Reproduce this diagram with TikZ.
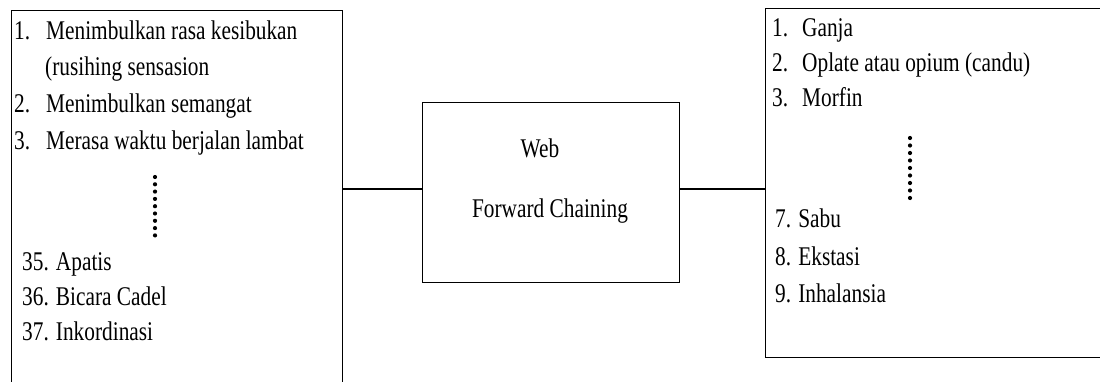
\documentclass[tikz,border=0pt]{standalone}
\usepackage{fontspec}
\usepackage{graphicx}
\setmainfont{Liberation Serif}
\newcommand{\sq}[1]{\scalebox{0.79}[1]{#1}}
\tikzset{
  box/.style={draw, line width=1.1pt, inner sep=0pt, fill=none},
  txt/.style={anchor=base west, inner sep=0pt, font=\fontsize{27}{27}\selectfont},
  ctxt/.style={anchor=base, inner sep=0pt, font=\fontsize{27}{27}\selectfont},
  conn/.style={line width=1.1pt},
}
\begin{document}
\begin{tikzpicture}[x=1pt,y=-1pt]
\useasboundingbox (0,0) rectangle (1100,382);
% boxes
\node[box, minimum width=331pt, minimum height=420pt, anchor=north west] (L) at (11,10) {};
\node[box, minimum width=257pt, minimum height=180pt, anchor=north west] (C) at (422,102) {};
\node[box, minimum width=350pt, minimum height=349pt, anchor=north west] (R) at (765,8) {};
% connectors
\coordinate (cl) at (422,189);
\coordinate (cr) at (679,189);
\draw[conn] (cl) -- (cl -| L.east);
\draw[conn] (cr) -- (cr -| R.west);
% left text
\node[txt] (l1n) at (14,40) {\sq{1.}};
\node[txt] (l1) at (46,40) {\sq{Menimbulkan rasa kesibukan}};
\node[txt] (l1b) at (45,76) {\sq{(rusihing sensasion}};
\node[txt] (l2n) at (14,113) {\sq{2.}};
\node[txt] (l2) at (46,113) {\sq{Menimbulkan semangat}};
\node[txt] (l3n) at (14,150) {\sq{3.}};
\node[txt] (l3) at (46,150) {\sq{Merasa waktu berjalan lambat}};
\foreach \i in {0,...,8} \fill (155,{177+7.3*\i}) circle (2.1pt);
\node[txt] (l35) at (22,270) {\sq{35. Apatis}};
\node[txt] (l36) at (22,305) {\sq{36. Bicara Cadel}};
\node[txt] (l37) at (22,340) {\sq{37. Inkordinasi}};
% center text
\node[ctxt] (web) at (540,158) {\sq{Web}};
\node[ctxt] (fc) at (550,218) {\sq{Forward Chaining}};
% right text
\node[txt] (r1n) at (772,37) {\sq{1.}};
\node[txt] (r1) at (802,37) {\sq{Ganja}};
\node[txt] (r2n) at (772,72) {\sq{2.}};
\node[txt] (r2) at (802,72) {\sq{Oplate atau opium (candu)}};
\node[txt] (r3n) at (772,107) {\sq{3.}};
\node[txt] (r3) at (802,107) {\sq{Morfin}};
\foreach \i in {0,...,8} \fill (910,{138+7.5*\i}) circle (2.1pt);
\node[txt] (r7) at (775,227) {\sq{7. Sabu}};
\node[txt] (r8) at (775,265) {\sq{8. Ekstasi}};
\node[txt] (r9) at (775,302) {\sq{9. Inhalansia}};
\end{tikzpicture}
\end{document}
